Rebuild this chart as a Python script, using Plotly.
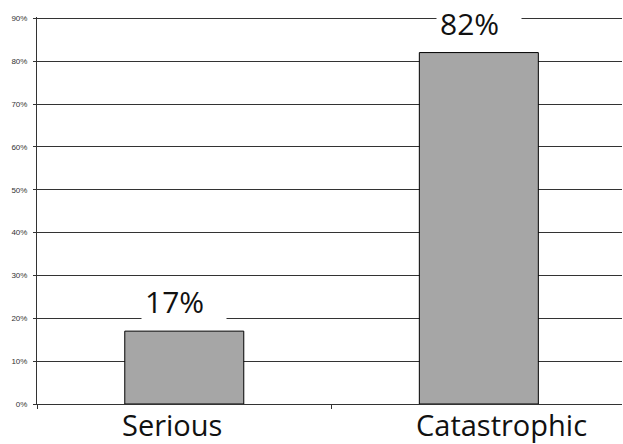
import plotly.graph_objects as go

categories = ["Serious", "Catastrophic"]
values = [17, 82]
value_labels = ["17%", "82%"]
y_ticks = [0, 10, 20, 30, 40, 50, 60, 70, 80, 90]

# horizontal nudges of the category captions (style only)
caption_shift = [-12, 23]

fig = go.Figure()
fig.add_trace(go.Bar(
    x=categories, y=values,
    marker=dict(color="#a6a6a6", line=dict(color="#000000", width=1)),
    width=0.404,
))

for c, v, t in zip(categories, values, value_labels):
    fig.add_annotation(
        x=c, y=v, text=t, showarrow=False, xref="x", yref="y",
        yanchor="bottom", yshift=9, width=78, height=34,
        align="left", valign="middle",
        font=dict(family="Open Sans", size=30, color="#111111"),
        bgcolor="white", borderpad=3,
    )

for c, s in zip(categories, caption_shift):
    fig.add_annotation(
        x=c, y=0, text=c, showarrow=False, xref="x", yref="paper",
        yanchor="top", yshift=1, xshift=s, height=38, valign="top",
        font=dict(family="Open Sans", size=29, color="#111111"),
    )

fig.update_layout(
    width=623, height=444,
    margin=dict(l=37, r=1, t=17, b=40),
    paper_bgcolor="white", plot_bgcolor="white",
    showlegend=False,
)
fig.update_xaxes(
    range=[-0.5, 1.486],
    showline=True, linecolor="#333333", linewidth=1,
    ticks="outside", tickson="boundaries", ticklen=4, tickcolor="#333333",
    showticklabels=False,
    showgrid=False,
)
fig.update_yaxes(
    range=[0, 90.3], tickvals=y_ticks, ticktext=[f"{v}%" for v in y_ticks],
    showline=True, linecolor="#333333", linewidth=1,
    ticks="outside", ticklen=3, tickcolor="#333333",
    ticklabelstandoff=4,
    tickfont=dict(family="Liberation Sans", size=8, color="#333333"),
    showgrid=True, gridcolor="#333333", gridwidth=1,
    zeroline=False,
)

fig.write_html("out.html")
